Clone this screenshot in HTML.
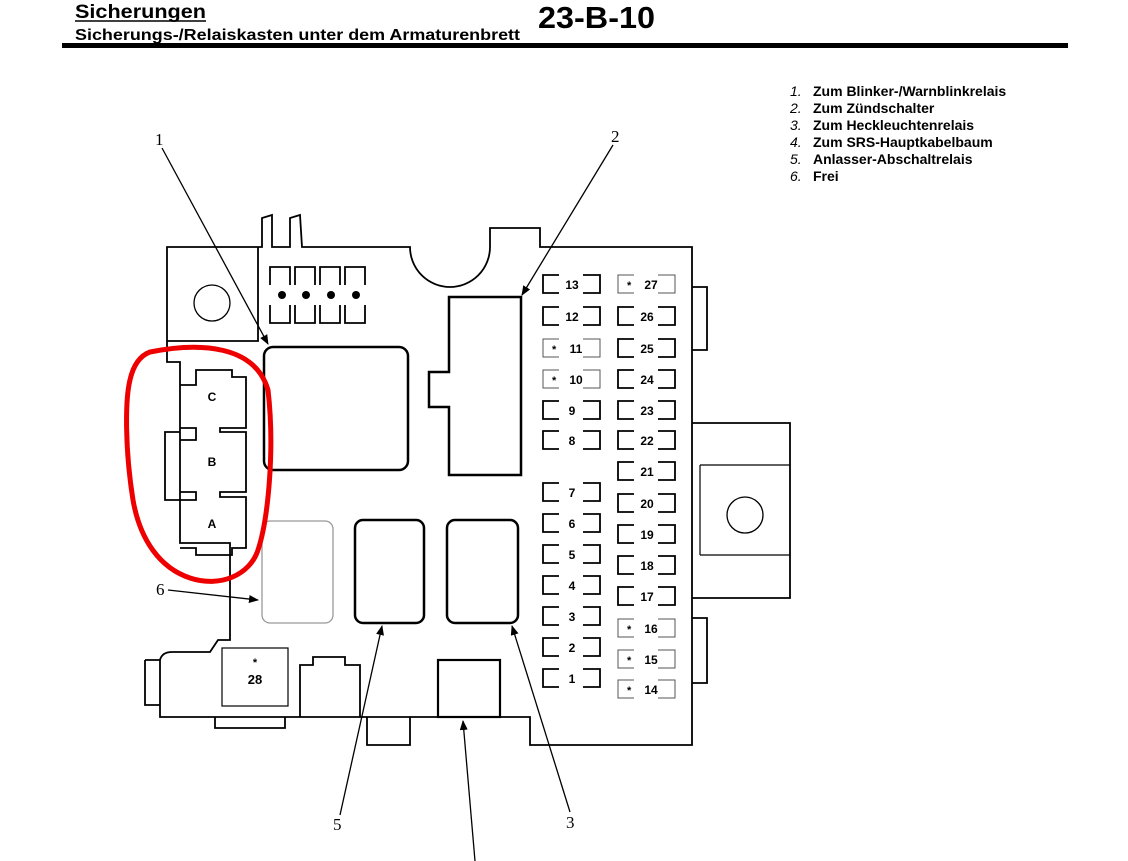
<!DOCTYPE html>
<html><head><meta charset="utf-8"><style>
html,body{margin:0;padding:0;background:#fff;}
body{width:1128px;height:861px;overflow:hidden;position:relative;font-family:"Liberation Sans",sans-serif;}
</style></head><body>
<svg width="1128" height="861" viewBox="0 0 1128 861" xmlns="http://www.w3.org/2000/svg" style="position:absolute;left:0;top:0">
<defs><marker id="ar" markerWidth="10" markerHeight="8" refX="9" refY="4" orient="auto" markerUnits="userSpaceOnUse"><path d="M0,0 L10,4 L0,8 Z" fill="#000"/></marker></defs>
<g font-family="Liberation Sans, sans-serif" font-weight="bold">
<text x="75" y="18" font-size="19" textLength="131" lengthAdjust="spacingAndGlyphs">Sicherungen</text>
<line x1="75" y1="21" x2="206" y2="21" stroke="#000" stroke-width="1.5"/>
<text x="75" y="40" font-size="16" textLength="445" lengthAdjust="spacingAndGlyphs">Sicherungs-/Relaiskasten unter dem Armaturenbrett</text>
<text x="538" y="28" font-size="31" textLength="117" lengthAdjust="spacingAndGlyphs">23-B-10</text>
</g>
<rect x="62" y="43" width="1006" height="5" fill="#000"/>
<g font-family="Liberation Sans, sans-serif" font-size="14">
<text x="790" y="96" font-style="italic">1.</text><text x="813" y="96" font-weight="bold">Zum Blinker-/Warnblinkrelais</text>
<text x="790" y="113" font-style="italic">2.</text><text x="813" y="113" font-weight="bold">Zum Zündschalter</text>
<text x="790" y="130" font-style="italic">3.</text><text x="813" y="130" font-weight="bold">Zum Heckleuchtenrelais</text>
<text x="790" y="147" font-style="italic">4.</text><text x="813" y="147" font-weight="bold">Zum SRS-Hauptkabelbaum</text>
<text x="790" y="164" font-style="italic">5.</text><text x="813" y="164" font-weight="bold">Anlasser-Abschaltrelais</text>
<text x="790" y="181" font-style="italic">6.</text><text x="813" y="181" font-weight="bold">Frei</text>
</g>
<g font-family="Liberation Serif, serif" font-size="17">
<text x="155" y="145">1</text><text x="611" y="142">2</text><text x="156" y="595">6</text><text x="333" y="830">5</text><text x="566" y="828">3</text>
</g>
<g fill="none" stroke="#000" stroke-width="1.8">
<path d="M167,247 L262,247 L262,218 L272,215 L272,247 L290,247 L290,218 L300,215 L302,247 L410,247 A40,40 0 0 0 490,247 L490,228 L540,228 L540,247 L692,247 L692,745 L530,745 L530,717 L160,717 L160,660 Q162,652 172,652 L210,652 L218,640 L230,640 L230,543 L180,543 L180,362 L167,362 Z"/>
<path d="M167,341 L258,341 L258,247"/>
<circle cx="212" cy="303" r="18" stroke-width="1.3"/>
<path d="M145,660 L160,660 M145,660 L145,705 L160,705"/>
<path d="M215,717 L215,728 L285,728 L285,717"/>
<path d="M367,717 L367,745 L410,745 L410,717"/>
<path d="M692,287 L707,287 L707,350 L692,350"/>
<path d="M692,423 L790,423 L790,598 L692,598"/>
<path d="M700,465 L790,465 M700,555 L790,555 M700,465 L700,555" stroke-width="1.2"/>
<circle cx="745" cy="515" r="18" stroke-width="1.3"/>
<path d="M692,618 L707,618 L707,683 L692,683"/>
<path d="M180,385 L196,385 L196,370 L232,370 L232,377 L246,377 L246,428 L220,428 L220,432 L246,432 L246,492 L220,492 L220,497 L246,497 L246,548 L232,548 L232,555 L196,555 L196,548 L180,548"/>
<path d="M180,428 L196,428 L196,440 L180,440 M180,492 L196,492 L196,500 L180,500 M180,432 L165,432 L165,500 L180,500"/>
<path d="M270,285 L270,267 L290,267 L290,285 M295,285 L295,267 L315,267 L315,285 M320,285 L320,267 L340,267 L340,285 M345,285 L345,267 L365,267 L365,285"/>
<path d="M270,305 L270,323 L290,323 L290,305 M295,305 L295,323 L315,323 L315,305 M320,305 L320,323 L340,323 L340,305 M345,305 L345,323 L365,323 L365,305"/>
<rect x="264" y="347" width="144" height="123" rx="9" stroke-width="2.5"/>
<path d="M449,297 L521,297 L521,475 L449,475 L449,407 L429,407 L429,372 L449,372 Z" stroke-width="2.5"/>
<rect x="262" y="521" width="71" height="102" rx="8" stroke="#999" stroke-width="1.3"/>
<rect x="355" y="520" width="69" height="103" rx="8" stroke-width="2.5"/>
<rect x="447" y="520" width="71" height="103" rx="8" stroke-width="2.5"/>
<rect x="438" y="660" width="62" height="57" stroke-width="2.2"/>
<rect x="222" y="648" width="66" height="58" stroke-width="1.2"/>
<path d="M300,717 L300,665 L313,665 L313,657 L345,657 L345,665 L360,665 L360,717"/>
</g>
<g fill="#000"><circle cx="282" cy="295" r="4"/><circle cx="306" cy="295" r="4"/><circle cx="331" cy="295" r="4"/><circle cx="356" cy="295" r="4"/></g>
<text x="255" y="666" font-size="11" font-weight="bold" text-anchor="middle" font-family="Liberation Sans, sans-serif">*</text>
<text x="255" y="684" font-size="13" font-weight="bold" text-anchor="middle" font-family="Liberation Sans, sans-serif">28</text>
<path d="M150,352 C200,342 255,345 268,390 C275,450 268,520 258,550 C250,575 220,588 190,578 C160,568 140,540 133,500 C125,450 125,400 130,380 C134,362 142,355 150,352 Z" fill="none" stroke="#e00" stroke-width="5"/>
<g font-family="Liberation Sans, sans-serif" font-size="12" font-weight="bold" text-anchor="middle">
<text x="212" y="401">C</text><text x="212" y="466">B</text><text x="212" y="528">A</text>
</g>
<g stroke="#000" stroke-width="1.3" fill="none" marker-end="url(#ar)">
<line x1="162" y1="148" x2="268" y2="344"/>
<line x1="613" y1="145" x2="522" y2="295"/>
<line x1="168" y1="590" x2="258" y2="600"/>
<line x1="340" y1="815" x2="382" y2="626"/>
<line x1="570" y1="812" x2="512" y2="626"/>
<line x1="475" y1="861" x2="463" y2="721"/>
</g>
<g id="fuses" font-family="Liberation Sans, sans-serif" font-size="12" font-weight="bold"></g>
<script>
(function(){
var g=document.getElementById('fuses'),ns='http://www.w3.org/2000/svg';
var L=[[13,284],[12,316],[11,348,1],[10,379,1],[9,410],[8,440],[7,492],[6,523],[5,554],[4,585],[3,616],[2,647],[1,678]];
var R=[[27,284,1],[26,316],[25,348],[24,379],[23,410],[22,440],[21,471],[20,503],[19,534],[18,565],[17,596],[16,628,1],[15,659,1],[14,689,1]];
function f(x,r){var n=r[0],y=r[1],st=r[2];
var p=document.createElementNS(ns,'path');
p.setAttribute('d','M'+(x+16)+','+(y-9)+' L'+x+','+(y-9)+' L'+x+','+(y+9)+' L'+(x+16)+','+(y+9)+' M'+(x+40)+','+(y-9)+' L'+(x+57)+','+(y-9)+' L'+(x+57)+','+(y+9)+' L'+(x+40)+','+(y+9));
p.setAttribute('fill','none');p.setAttribute('stroke',st?'#555':'#000');p.setAttribute('stroke-width',st?'1':'1.8');g.appendChild(p);
var t=document.createElementNS(ns,'text');t.setAttribute('x',x+29+(st?4:0));t.setAttribute('y',y+5);t.setAttribute('text-anchor','middle');t.textContent=n;g.appendChild(t);
if(st){var s=document.createElementNS(ns,'text');s.setAttribute('x',x+9);s.setAttribute('y',y+5);s.setAttribute('font-size','11');s.textContent='*';g.appendChild(s);}
}
L.forEach(function(r){f(543,r)});R.forEach(function(r){f(618,r)});
})();
</script>
</svg>
</body></html>
